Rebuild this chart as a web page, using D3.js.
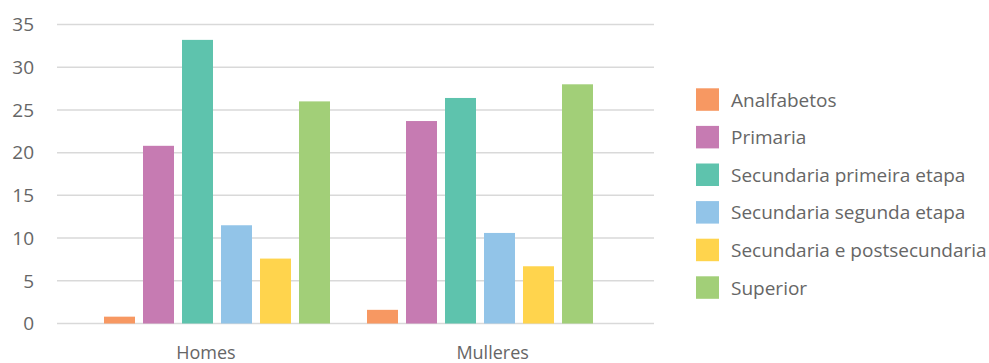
<!DOCTYPE html>
<html>
<head>
<meta charset="utf-8">
<script src="https://cdn.jsdelivr.net/npm/d3@7"></script>
<style>
  body { margin: 0; background: #fff; }
  text { font-family: "Open Sans", sans-serif; fill: #666; }
</style>
</head>
<body>
<script>
const categories = ['Homes', 'Mulleres'];
const series = ['Analfabetos', 'Primaria', 'Secundaria primeira etapa',
    'Secundaria segunda etapa', 'Secundaria e postsecundaria', 'Superior'];
const homes = [0.8, 20.8, 33.2, 11.5, 7.6, 26.0];
const mulleres = [1.6, 23.7, 26.4, 10.6, 6.7, 28.0];
const colors = ['#F79862', '#C67BB2', '#5EC3AD', '#92C4E8', '#FFD44D', '#A2CF78'];
const yTicks = [0, 5, 10, 15, 20, 25, 30, 35];

const width = 989, height = 363;
const values = {Homes: homes, Mulleres: mulleres};

let svg = d3.select('body').append('svg')
    .attr('width', width)
    .attr('height', height);

let y = d3.scaleLinear().domain([0, 35]).range([323.5, 24.5]);

// groups sit a bit off the label centres, as in the original
let x0 = d3.scaleBand().domain(categories).range([85.5, 611.5]);
let xLabel = d3.scaleBand().domain(categories).range([62.5, 636]);
let x1 = d3.scaleBand().domain(series).range([-117, 117])
    .paddingInner(8 / 39).paddingOuter(4 / 39);

// gridlines
svg.append('g')
    .selectAll('line')
    .data(yTicks)
    .join('line')
    .attr('x1', 57).attr('x2', 654)
    .attr('y1', d => y(d)).attr('y2', d => y(d))
    .attr('stroke', '#d9d9d9')
    .attr('stroke-width', 1.5);

// y labels
svg.append('g')
    .selectAll('text')
    .data(yTicks)
    .join('text')
    .attr('x', 34)
    .attr('y', d => y(d))
    .attr('dy', '0.36em')
    .attr('text-anchor', 'end')
    .style('font-size', '19px')
    .text(d => d);

// bars
let group = svg.append('g')
    .selectAll('g')
    .data(categories)
    .join('g')
    .attr('transform', d => `translate(${x0(d) + x0.bandwidth() / 2},0)`);

group.selectAll('rect')
    .data(c => series.map((s, i) => ({s: s, v: values[c][i], color: colors[i]})))
    .join('rect')
    .attr('x', d => x1(d.s))
    .attr('width', x1.bandwidth())
    .attr('y', d => y(d.v))
    .attr('height', d => y(0) - y(d.v))
    .attr('fill', d => d.color);

// category labels
svg.append('g')
    .selectAll('text')
    .data(categories)
    .join('text')
    .attr('x', d => xLabel(d) + xLabel.bandwidth() / 2)
    .attr('y', 358.5)
    .attr('text-anchor', 'middle')
    .style('font-size', '18px')
    .text(d => d);

// legend
let legend = svg.append('g')
    .selectAll('g')
    .data(series)
    .join('g')
    .attr('transform', (d, i) => `translate(696,${88.3 + i * 37.6})`);

legend.append('rect')
    .attr('width', 23)
    .attr('height', 22.5)
    .attr('fill', (d, i) => colors[i]);

legend.append('text')
    .attr('x', 35)
    .attr('y', 11.5)
    .attr('dy', '0.36em')
    .style('font-size', '19px')
    .text(d => d);
</script>
</body>
</html>
